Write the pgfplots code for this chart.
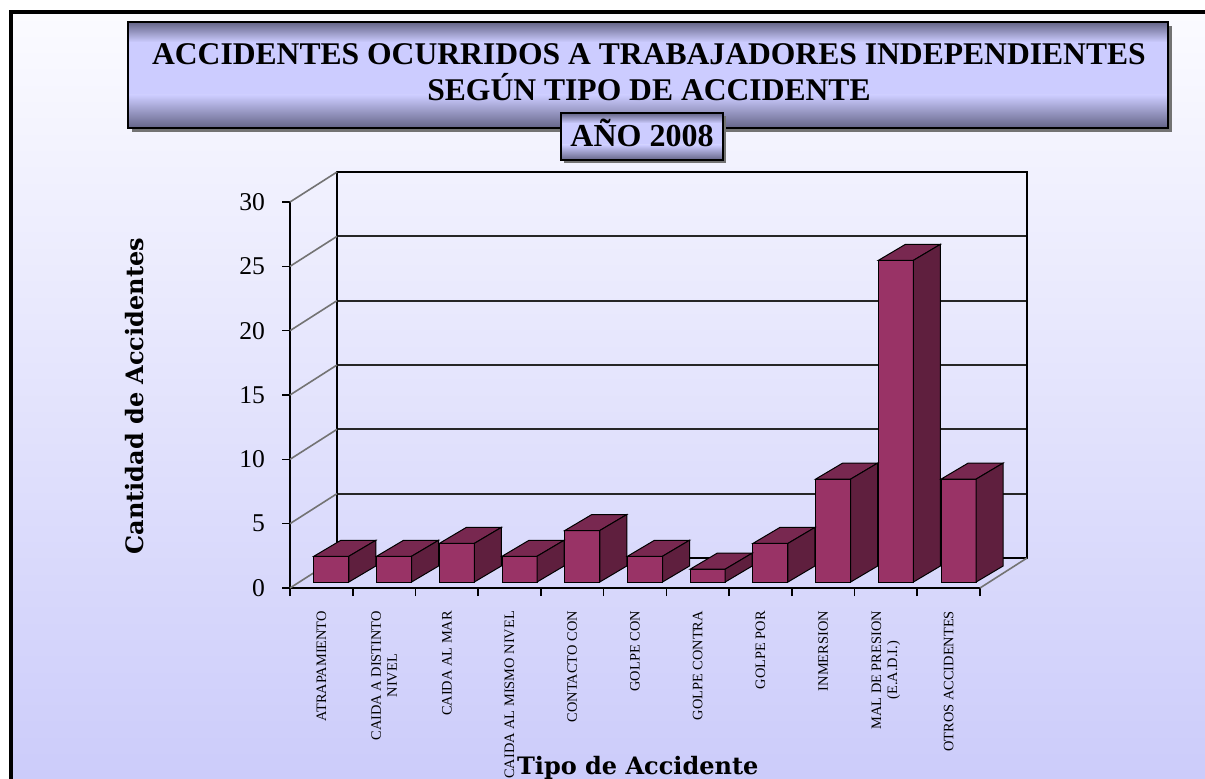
\documentclass[border=0pt]{standalone}
\usepackage{fontspec}
\setmainfont{Liberation Serif}
\newfontfamily\slab{DejaVu Serif}
\usepackage{pgfplots}
\usepackage{pgfplotstable}
\pgfplotsset{compat=1.18}
\definecolor{bgtop}{RGB}{251,251,255}
\definecolor{bgbot}{RGB}{204,204,250}
\definecolor{boxdark}{RGB}{100,100,135}
\definecolor{boxlight}{RGB}{204,204,255}
\definecolor{barfront}{RGB}{153,51,102}
\definecolor{bartop}{RGB}{120,40,80}
\definecolor{barside}{RGB}{95,31,62}

\pgfplotstableread{
x val
0.5 2
1.5 2
2.5 3
3.5 2
4.5 4
5.5 2
6.5 1
7.5 3
8.5 8
9.5 25
10.5 8
}\datatable

\pgfdeclareplotmark{cubetopside}{%
  \pgfmathsetmacro\hh{\barval*6.4333}%
  \pgfsetfillcolor{bartop}%
  \pgfpathmoveto{\pgfqpoint{-8.75pt}{0pt}}%
  \pgfpathlineto{\pgfqpoint{8.75pt}{0pt}}%
  \pgfpathlineto{\pgfqpoint{22.25pt}{8pt}}%
  \pgfpathlineto{\pgfqpoint{4.75pt}{8pt}}%
  \pgfpathclose
  \pgfusepathqfillstroke
  \pgfsetfillcolor{barside}%
  \pgfpathmoveto{\pgfqpoint{8.75pt}{0pt}}%
  \pgfpathlineto{\pgfqpoint{22.25pt}{8pt}}%
  \pgfpathlineto{\pgfpoint{22.25pt}{8pt-\hh pt}}%
  \pgfpathlineto{\pgfpoint{8.75pt}{-\hh pt}}%
  \pgfpathclose
  \pgfusepathqfillstroke
}

\begin{document}
\begin{tikzpicture}
\useasboundingbox (0,0) rectangle (602.5pt,389pt);
\fill[white] (0,0) rectangle (602.5pt,389pt);
\shade[top color=bgtop,bottom color=bgbot] (5.5pt,0) rectangle (602.5pt,383pt);
\draw[line width=2pt] (5.5pt,-2pt) -- (5.5pt,383pt) -- (605pt,383pt);
% title box
\fill[black!55] (66pt,323pt) rectangle (586pt,376pt);
\shade[top color=boxdark,bottom color=boxlight] (64pt,367.9pt) rectangle (584pt,378pt);
\fill[boxlight] (64pt,341.4pt) rectangle (584pt,368pt);
\shade[top color=boxlight,bottom color=boxdark] (64pt,325pt) rectangle (584pt,341.5pt);
\draw[black,line width=0.6pt] (64pt,325pt) rectangle (584pt,378pt);
\node[font=\fontsize{15.8}{18}\selectfont\bfseries,anchor=base] at (324.5pt,356.5pt) {ACCIDENTES OCURRIDOS A TRABAJADORES INDEPENDIENTES};
\node[font=\fontsize{15.8}{18}\selectfont\bfseries,anchor=base] at (324.5pt,338.5pt) {SEGÚN TIPO DE ACCIDENTE};
\fill[black!55] (282pt,307.5pt) rectangle (363pt,331pt);
\shade[top color=boxdark,bottom color=boxlight] (280.5pt,327.4pt) rectangle (361.5pt,332.5pt);
\fill[boxlight] (280.5pt,316.4pt) rectangle (361.5pt,327.5pt);
\shade[top color=boxlight,bottom color=boxdark] (280.5pt,309pt) rectangle (361.5pt,316.5pt);
\draw[black,line width=0.8pt] (280.5pt,309pt) rectangle (361.5pt,332.5pt);
\node[font=\fontsize{16}{18}\selectfont\bfseries,anchor=base] at (321pt,315.5pt) {AÑO 2008};

% back wall
\begin{axis}[
  scale only axis, width=345pt, height=193pt,
  at={(168.5pt,110pt)}, anchor=south west,
  xmin=0, xmax=11, ymin=0, ymax=30,
  xtick=\empty, ytick={5,10,...,25}, yticklabels={},
  major tick length=0pt,
  ymajorgrids, grid style={black!85,line width=0.9pt},
  axis line style={black,line width=0.9pt},
]
\end{axis}

% front axis
\begin{axis}[
  scale only axis, width=345pt, height=193pt,
  at={(145pt,95pt)}, anchor=south west,
  xmin=0, xmax=11, ymin=0, ymax=30,
  clip=false,
  axis x line*=bottom, axis y line*=left,
  axis line style={black,line width=0.9pt},
  tick align=outside,
  ytick={0,5,...,30},
  major tick length=4pt,
  ytick style={black,line width=0.8pt},
  yticklabel style={font=\fontsize{12.8}{14}\selectfont, anchor=east},
  yticklabel shift=5pt,
  /pgf/number format/assume math mode=true,
  xtick={0.5,1.5,...,10.5},
  xticklabels={ATRAPAMIENTO,{CAIDA A DISTINTO\\NIVEL},CAIDA AL MAR,CAIDA AL MISMO NIVEL,CONTACTO CON,GOLPE CON,GOLPE CONTRA,GOLPE POR,INMERSION,{MAL DE PRESION\\(E.A.D.I.)},OTROS ACCIDENTES},
  xticklabel style={font=\fontsize{7.2}{8}\selectfont, rotate=90, anchor=east, align=center},
  xticklabel shift=4pt,
  major x tick style={draw=none},
  minor xtick={0,1,...,11},
  minor tick length=4pt,
  minor x tick style={black,line width=0.8pt},
  xlabel={\slab\bfseries Tipo de Accidente},
  xlabel style={font=\fontsize{12}{14}\selectfont, at={(axis description cs:0.504,-0.484)}, anchor=base},
  ylabel={\slab\bfseries Cantidad de Accidentes},
  ylabel style={font=\fontsize{12}{14}\selectfont, at={(axis description cs:-0.226,0.497)}, anchor=center},
]
\pgfplotsinvokeforeach{0,5,...,30}{
  \draw[black!55,line width=0.8pt] (axis cs:0,#1) -- ++(23.5pt,15pt);
}
\draw[black!55,line width=0.8pt] (axis cs:11,0) -- ++(23.5pt,15pt);
\addplot[ybar, bar width=17.5pt, fill=barfront, draw=black, line width=0.5pt, xshift=5pt, yshift=3pt] table[x=x,y=val] {\datatable};
\addplot[only marks, scatter, scatter/use mapped color={draw=black,fill=barside}, mark=cubetopside, line width=0.5pt, xshift=5pt, yshift=3pt,
  visualization depends on={\thisrow{val} \as \barval}] table[x=x,y=val] {\datatable};
\end{axis}
\end{tikzpicture}
\end{document}
